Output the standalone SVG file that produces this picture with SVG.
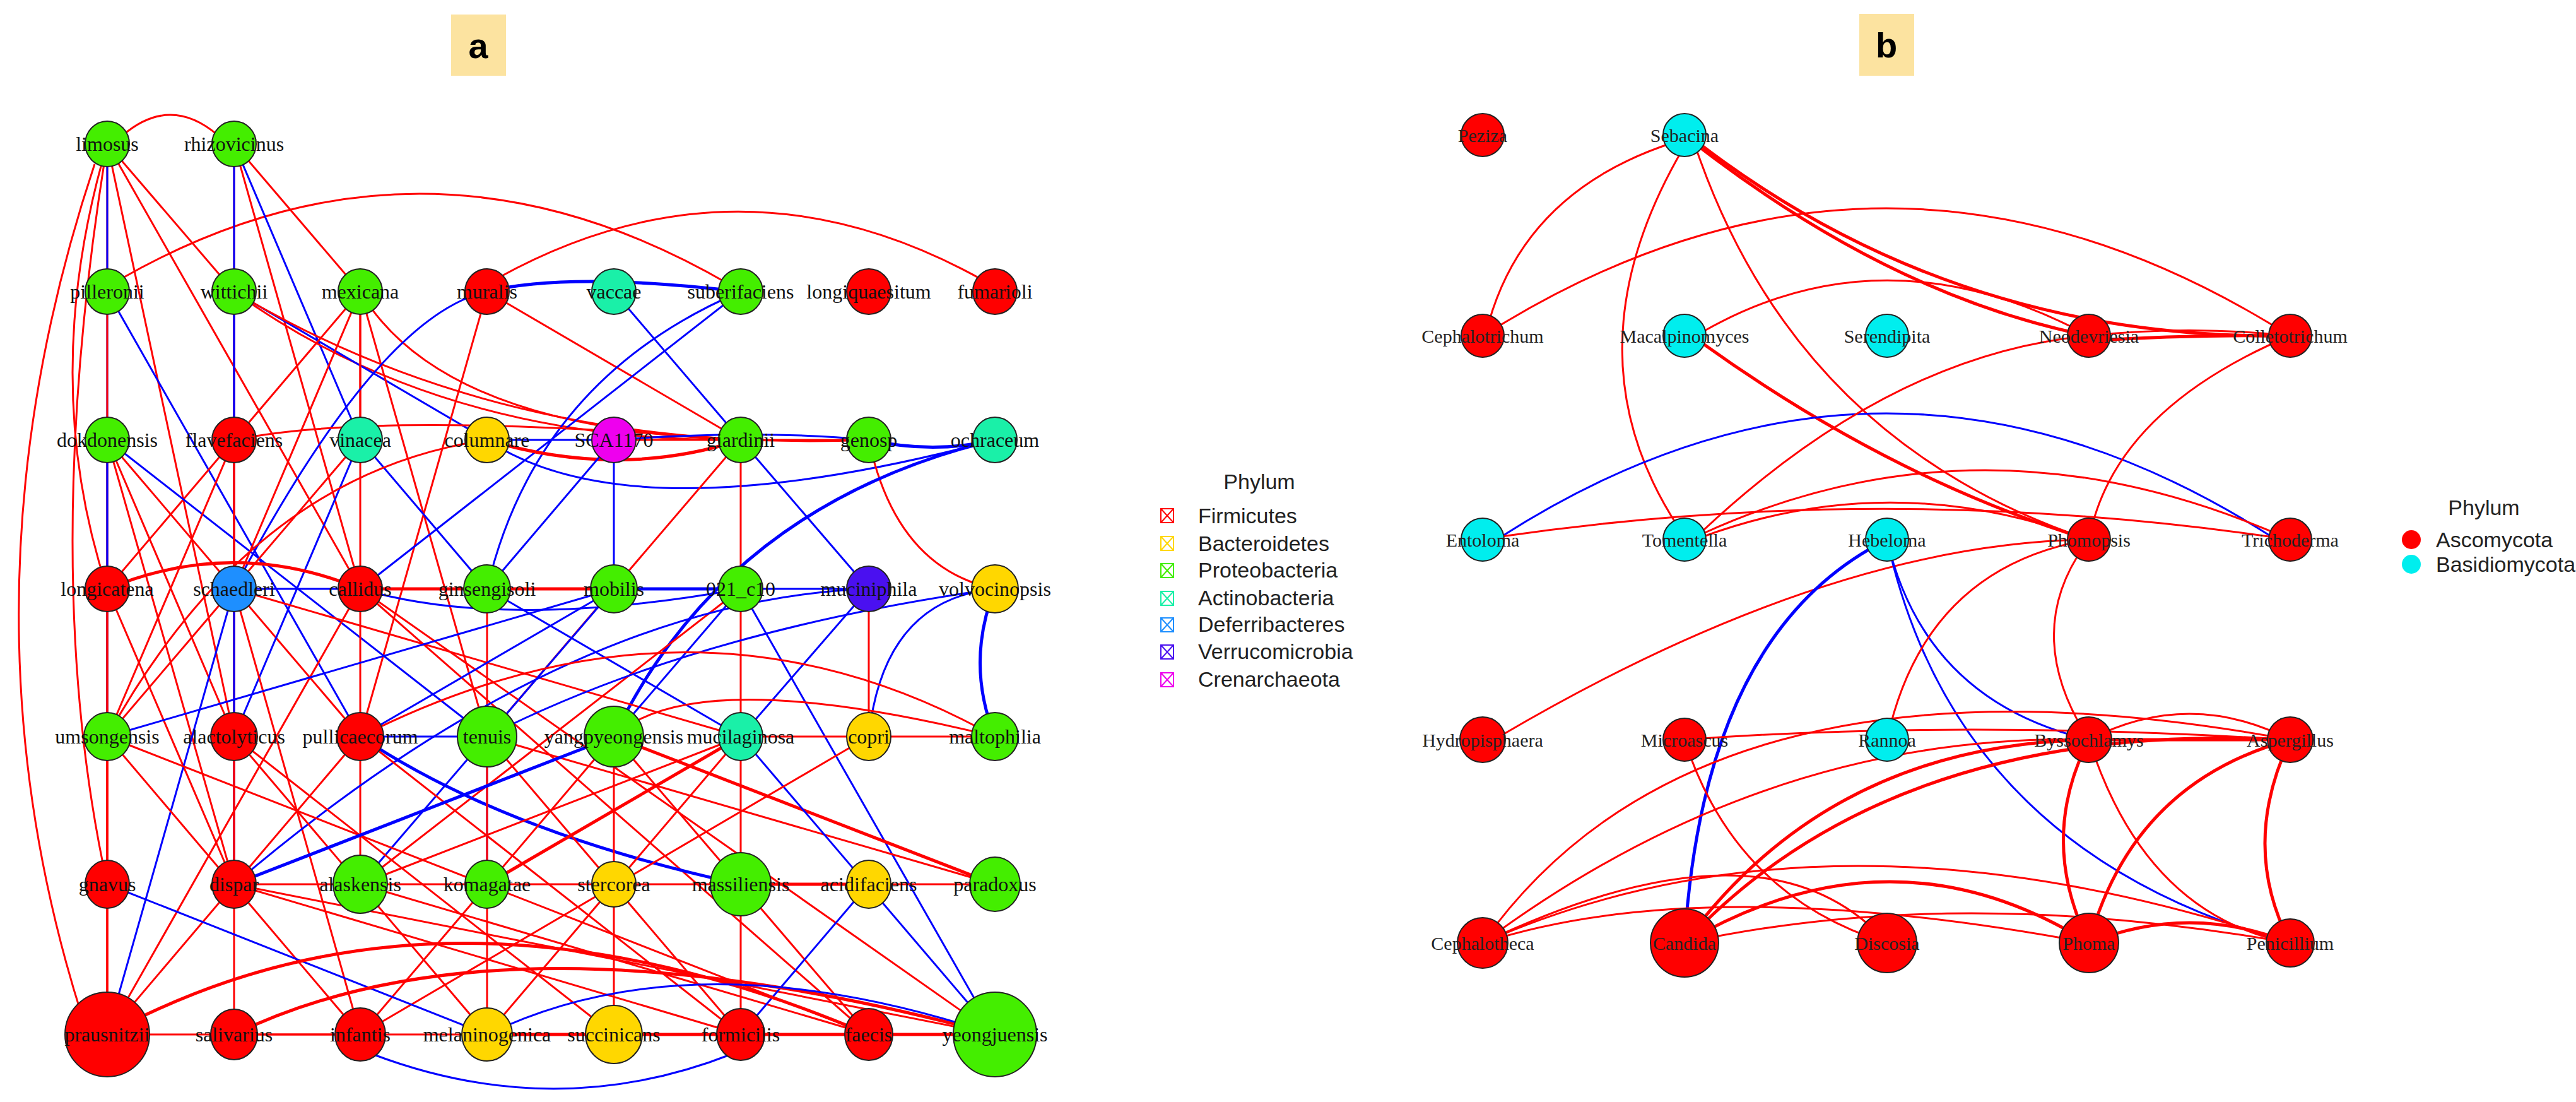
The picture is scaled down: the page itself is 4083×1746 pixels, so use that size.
<svg xmlns="http://www.w3.org/2000/svg" width="4083" height="1746" viewBox="0 0 4083 1746">
<style>
.r{stroke:#FF0000;stroke-width:3;fill:none}
.b{stroke:#0000FF;stroke-width:3;fill:none}
.t{stroke-width:5}
.n{stroke:#222;stroke-width:2}
.lb{font-family:"Liberation Serif",serif;font-size:32px;text-anchor:middle;dominant-baseline:central;fill:#111}
.lb2{font-family:"Liberation Serif",serif;font-size:30px;text-anchor:middle;dominant-baseline:central;fill:#222}
.lg{font-family:"Liberation Sans",sans-serif;font-size:34px;fill:#222}
.F{fill:#FF0000}.Y{fill:#FFD700}.G{fill:#44EE00}.A{fill:#1AF0A8}.D{fill:#1E8FFF}.V{fill:#4A10F0}.M{fill:#EE00EE}.C{fill:#00EEEE}
</style>
<rect width="4083" height="1746" fill="#fff"/>
<rect x="715" y="23" width="87" height="97" fill="#FCE3A0"/>
<text x="758" y="72" font-family="Liberation Sans,sans-serif" font-size="56" font-weight="bold" text-anchor="middle" dominant-baseline="central">a</text>
<rect x="2947" y="22" width="87" height="98" fill="#FCE3A0"/>
<text x="2990" y="71" font-family="Liberation Sans,sans-serif" font-size="56" font-weight="bold" text-anchor="middle" dominant-baseline="central">b</text>

<g id="connectors-a">
<path class="r" d="M195 214 Q270 150 345 214"/>
<path class="r" d="M195 440 Q672 169 1155 450"/>
<path class="r" d="M790 440 Q1174 228 1560 445"/>
<path class="r" d="M150 260 Q-80 950 130 1610"/>
<path class="b" d="M590 1670 Q880 1780 1160 1670"/>
<path class="r" d="M170 228 L170 462"/><path class="r" d="M170 228 L371 462"/><path class="r" d="M170 228 Q60 600 170 933"/>
<path class="r" d="M170 228 L371 1167"/><path class="b" d="M170 228 L170 1167"/><path class="r" d="M170 228 Q60 900 170 1401"/><path class="r" d="M170 228 L571 933"/>
<path class="r" d="M371 228 L371 462"/><path class="b" d="M371 228 L371 697"/><path class="b" d="M371 228 L571 697"/><path class="r" d="M371 228 L571 462"/><path class="r" d="M371 228 L571 933"/>
<path class="r" d="M170 462 L170 697"/><path class="b" d="M170 462 L571 1167"/>
<path class="r" d="M371 462 L371 697"/><path class="b" d="M371 462 L371 933"/><path class="r" d="M371 462 Q700 700 1174 697"/><path class="b" d="M371 462 L772 697"/><path class="r" d="M371 462 Q800 720 1377 697"/>
<path class="r" d="M571 462 Q700 680 1174 697"/><path class="r" d="M571 462 L371 933"/><path class="r" d="M571 462 L170 933"/><path class="r" d="M571 462 L571 697"/><path class="r" d="M571 462 L772 1167"/><path class="r" d="M571 462 L571 933"/>
<path class="b t" d="M772 462 Q900 430 1174 462"/><path class="r" d="M772 462 L1174 697"/><path class="b" d="M772 462 Q600 500 371 933"/><path class="r" d="M772 462 L571 1167"/>
<path class="b" d="M973 462 L1174 697 L1377 933 L1174 1167"/><path class="b" d="M1174 462 Q850 600 772 933"/><path class="b" d="M1174 462 L571 933"/>
<path class="r" d="M170 697 L170 933"/><path class="b" d="M170 697 L170 1167"/><path class="b" d="M170 697 L772 1167"/><path class="r" d="M170 697 L571 1167"/><path class="r" d="M170 697 L371 1167"/><path class="r" d="M170 697 L371 1401"/>
<path class="r" d="M371 697 Q600 650 1174 697"/><path class="r" d="M371 697 L170 1167"/><path class="r" d="M371 697 L371 1167"/><path class="r" d="M371 697 L371 1401"/>
<path class="b" d="M571 697 L772 933"/><path class="r" d="M571 697 L170 1167"/><path class="b" d="M571 697 L371 1167"/>
<path class="b" d="M772 697 L973 697"/><path class="b" d="M772 697 Q1000 850 1577 697"/><path class="r t" d="M772 697 Q980 760 1174 697"/><path class="r" d="M772 697 Q400 750 170 1167"/>
<path class="r" d="M973 697 L1174 697"/><path class="b" d="M973 697 Q1200 680 1377 697"/><path class="b" d="M973 697 L772 933"/><path class="b" d="M973 697 L973 933"/>
<path class="r" d="M1174 697 L1377 697"/><path class="r" d="M1174 697 L1174 933"/><path class="r" d="M1174 697 L772 1167"/>
<path class="b t" d="M1377 697 Q1480 720 1577 697"/><path class="r" d="M1377 697 Q1420 900 1577 933"/><path class="b t" d="M1577 697 Q1150 800 973 1167"/>
<path class="r t" d="M170 933 Q370 850 571 933"/><path class="r" d="M170 933 L170 1639"/><path class="r" d="M170 933 L170 1401"/><path class="r" d="M170 933 L371 1401"/>
<path class="b" d="M371 933 L973 933"/><path class="b" d="M371 933 L170 1639"/><path class="b" d="M371 933 L371 1401"/><path class="r" d="M371 933 L571 1639"/><path class="r" d="M371 933 L1174 1167"/>
<path class="r t" d="M571 933 L973 933"/><path class="r" d="M571 933 L772 933"/><path class="b" d="M571 933 Q800 1000 1174 933"/><path class="r" d="M571 933 L1577 1639"/><path class="r" d="M571 933 L571 1401"/><path class="r" d="M571 933 L1377 1639"/><path class="r" d="M571 933 L170 1639"/>
<path class="r" d="M772 933 L973 933"/><path class="b" d="M772 933 L1174 1167"/><path class="r" d="M772 933 L772 1167"/>
<path class="b t" d="M973 933 L1174 933"/><path class="b" d="M973 933 L571 1401"/><path class="b" d="M973 933 L571 1167"/><path class="b" d="M973 933 L170 1167"/>
<path class="b" d="M1174 933 L1377 933"/><path class="b" d="M1174 933 L973 1167"/><path class="b" d="M1174 933 L1577 1639"/><path class="r" d="M1174 933 L1174 1639"/><path class="r" d="M1174 933 L571 1401"/>
<path class="r" d="M1377 933 L1377 1167"/><path class="b" d="M1377 933 Q900 950 371 1401"/>
<path class="b t" d="M1577 933 Q1530 1050 1577 1167"/><path class="b" d="M1577 933 Q1100 1000 772 1167"/><path class="b" d="M1577 933 Q1400 950 1377 1167"/>
<path class="r" d="M170 1167 L170 1401"/><path class="r" d="M170 1167 L170 1639"/><path class="r" d="M170 1167 L1377 1639"/><path class="r" d="M170 1167 L571 1639"/>
<path class="r" d="M371 1167 L772 1639"/><path class="r" d="M371 1167 L371 1639"/><path class="r" d="M371 1167 L973 1639"/>
<path class="b" d="M571 1167 L772 1167"/><path class="b t" d="M571 1167 Q800 1320 1174 1401"/><path class="r" d="M571 1167 L170 1639"/><path class="r" d="M571 1167 L1174 1639"/>
<path class="b" d="M772 1167 L772 1401"/><path class="r" d="M772 1167 L772 1639"/><path class="r" d="M772 1167 L1174 1639"/><path class="r" d="M772 1167 L1577 1401"/>
<path class="b t" d="M973 1167 L371 1401"/><path class="r" d="M973 1167 L571 1639"/><path class="r t" d="M973 1167 L1577 1401"/><path class="r" d="M973 1167 L1377 1639"/><path class="r" d="M973 1167 L973 1639"/>
<path class="r" d="M1174 1167 L1377 1167"/><path class="r" d="M1174 1167 L571 1401"/><path class="r" d="M1174 1167 L772 1639"/><path class="b" d="M1174 1167 L1577 1639"/><path class="r t" d="M1174 1167 L772 1401"/>
<path class="r" d="M1377 1167 L1577 1167"/><path class="r" d="M1377 1167 L571 1639"/><path class="r" d="M1577 1167 Q1100 900 571 1167"/><path class="r" d="M1577 1167 Q1100 1050 973 1167"/>
<path class="r" d="M170 1401 L170 1639"/><path class="b" d="M170 1401 L772 1639"/><path class="r" d="M371 1401 L571 1401"/><path class="r" d="M371 1401 L1577 1639"/><path class="r" d="M371 1401 L1174 1639"/>
<path class="r" d="M571 1401 L772 1401"/><path class="r" d="M571 1401 L1377 1639"/><path class="r" d="M772 1401 L973 1401"/><path class="r" d="M973 1401 L1174 1401"/>
<path class="r t" d="M1174 1401 L1377 1401"/><path class="r" d="M1377 1401 L1577 1401"/><path class="b" d="M1377 1401 L1174 1639"/><path class="r t" d="M170 1639 Q700 1350 1377 1639"/><path class="r t" d="M371 1639 Q800 1430 1577 1639"/>
<path class="r" d="M170 1639 L973 1639"/><path class="r" d="M371 1639 L571 1639"/><path class="r t" d="M772 1639 L1377 1639"/><path class="r" d="M973 1639 L1174 1639"/><path class="r t" d="M1377 1639 L1577 1639"/><path class="b" d="M772 1639 Q1100 1480 1577 1639"/>
</g>

<g id="nodes-a">
<g id="limosus"><ellipse class="n G" cx="170" cy="228" rx="35" ry="36"/><text class="lb" x="170" y="228">limosus</text></g>
<g id="rhizovicinus"><ellipse class="n G" cx="371" cy="228" rx="35" ry="36"/><text class="lb" x="371" y="228">rhizovicinus</text></g>
<g id="pilleronii"><ellipse class="n G" cx="170" cy="462" rx="35" ry="36"/><text class="lb" x="170" y="462">pilleronii</text></g>
<g id="wittichii"><ellipse class="n G" cx="371" cy="462" rx="35" ry="36"/><text class="lb" x="371" y="462">wittichii</text></g>
<g id="mexicana"><ellipse class="n G" cx="571" cy="462" rx="35" ry="36"/><text class="lb" x="571" y="462">mexicana</text></g>
<g id="muralis"><ellipse class="n F" cx="772" cy="462" rx="35" ry="36"/><text class="lb" x="772" y="462">muralis</text></g>
<g id="vaccae"><ellipse class="n A" cx="973" cy="462" rx="35" ry="36"/><text class="lb" x="973" y="462">vaccae</text></g>
<g id="suberifaciens"><ellipse class="n G" cx="1174" cy="462" rx="35" ry="36"/><text class="lb" x="1174" y="462">suberifaciens</text></g>
<g id="longiquaesitum"><ellipse class="n F" cx="1377" cy="462" rx="35" ry="36"/><text class="lb" x="1377" y="462">longiquaesitum</text></g>
<g id="fumarioli"><ellipse class="n F" cx="1577" cy="462" rx="35" ry="36"/><text class="lb" x="1577" y="462">fumarioli</text></g>
<g id="dokdonensis"><ellipse class="n G" cx="170" cy="697" rx="35" ry="36"/><text class="lb" x="170" y="697">dokdonensis</text></g>
<g id="flavefaciens"><ellipse class="n F" cx="371" cy="697" rx="35" ry="36"/><text class="lb" x="371" y="697">flavefaciens</text></g>
<g id="vinacea"><ellipse class="n A" cx="571" cy="697" rx="35" ry="36"/><text class="lb" x="571" y="697">vinacea</text></g>
<g id="columnare"><ellipse class="n Y" cx="772" cy="697" rx="35" ry="36"/><text class="lb" x="772" y="697">columnare</text></g>
<g id="SCA1170"><ellipse class="n M" cx="973" cy="697" rx="35" ry="36"/><text class="lb" x="973" y="697">SCA1170</text></g>
<g id="giardinii"><ellipse class="n G" cx="1174" cy="697" rx="35" ry="36"/><text class="lb" x="1174" y="697">giardinii</text></g>
<g id="genosp"><ellipse class="n G" cx="1377" cy="697" rx="35" ry="36"/><text class="lb" x="1377" y="697">genosp</text></g>
<g id="ochraceum"><ellipse class="n A" cx="1577" cy="697" rx="35" ry="36"/><text class="lb" x="1577" y="697">ochraceum</text></g>
<g id="longicatena"><ellipse class="n F" cx="170" cy="933" rx="35" ry="36"/><text class="lb" x="170" y="933">longicatena</text></g>
<g id="schaedleri"><ellipse class="n D" cx="371" cy="933" rx="35" ry="36"/><text class="lb" x="371" y="933">schaedleri</text></g>
<g id="callidus"><ellipse class="n F" cx="571" cy="933" rx="35" ry="36"/><text class="lb" x="571" y="933">callidus</text></g>
<g id="ginsengisoli"><ellipse class="n G" cx="772" cy="933" rx="37" ry="38"/><text class="lb" x="772" y="933">ginsengisoli</text></g>
<g id="mobilis"><ellipse class="n G" cx="973" cy="933" rx="37" ry="38"/><text class="lb" x="973" y="933">mobilis</text></g>
<g id="c021_c10"><ellipse class="n G" cx="1174" cy="933" rx="35" ry="36"/><text class="lb" x="1174" y="933">021_c10</text></g>
<g id="muciniphila"><ellipse class="n V" cx="1377" cy="933" rx="35" ry="36"/><text class="lb" x="1377" y="933">muciniphila</text></g>
<g id="volvocinopsis"><ellipse class="n Y" cx="1577" cy="933" rx="37" ry="38"/><text class="lb" x="1577" y="933">volvocinopsis</text></g>
<g id="umsongensis"><ellipse class="n G" cx="170" cy="1167" rx="37" ry="38"/><text class="lb" x="170" y="1167">umsongensis</text></g>
<g id="alactolyticus"><ellipse class="n F" cx="371" cy="1167" rx="37" ry="38"/><text class="lb" x="371" y="1167">alactolyticus</text></g>
<g id="pullicaecorum"><ellipse class="n F" cx="571" cy="1167" rx="37" ry="38"/><text class="lb" x="571" y="1167">pullicaecorum</text></g>
<g id="tenuis"><ellipse class="n G" cx="772" cy="1167" rx="47" ry="48"/><text class="lb" x="772" y="1167">tenuis</text></g>
<g id="yangpyeongensis"><ellipse class="n G" cx="973" cy="1167" rx="47" ry="48"/><text class="lb" x="973" y="1167">yangpyeongensis</text></g>
<g id="mucilaginosa"><ellipse class="n A" cx="1174" cy="1167" rx="35" ry="38"/><text class="lb" x="1174" y="1167">mucilaginosa</text></g>
<g id="copri"><ellipse class="n Y" cx="1377" cy="1167" rx="35" ry="38"/><text class="lb" x="1377" y="1167">copri</text></g>
<g id="maltophilia"><ellipse class="n G" cx="1577" cy="1167" rx="37" ry="38"/><text class="lb" x="1577" y="1167">maltophilia</text></g>
<g id="gnavus"><ellipse class="n F" cx="170" cy="1401" rx="35" ry="38"/><text class="lb" x="170" y="1401">gnavus</text></g>
<g id="dispar"><ellipse class="n F" cx="371" cy="1401" rx="35" ry="38"/><text class="lb" x="371" y="1401">dispar</text></g>
<g id="alaskensis"><ellipse class="n G" cx="571" cy="1401" rx="43" ry="46"/><text class="lb" x="571" y="1401">alaskensis</text></g>
<g id="komagatae"><ellipse class="n G" cx="772" cy="1401" rx="35" ry="38"/><text class="lb" x="772" y="1401">komagatae</text></g>
<g id="stercorea"><ellipse class="n Y" cx="973" cy="1401" rx="35" ry="36"/><text class="lb" x="973" y="1401">stercorea</text></g>
<g id="massiliensis"><ellipse class="n G" cx="1174" cy="1401" rx="48" ry="50"/><text class="lb" x="1174" y="1401">massiliensis</text></g>
<g id="acidifaciens"><ellipse class="n Y" cx="1377" cy="1401" rx="35" ry="38"/><text class="lb" x="1377" y="1401">acidifaciens</text></g>
<g id="paradoxus"><ellipse class="n G" cx="1577" cy="1401" rx="40" ry="43"/><text class="lb" x="1577" y="1401">paradoxus</text></g>
<g id="prausnitzii"><ellipse class="n F" cx="170" cy="1639" rx="67" ry="67"/><text class="lb" x="170" y="1639">prausnitzii</text></g>
<g id="salivarius"><ellipse class="n F" cx="371" cy="1639" rx="37" ry="40"/><text class="lb" x="371" y="1639">salivarius</text></g>
<g id="infantis"><ellipse class="n F" cx="571" cy="1639" rx="40" ry="42"/><text class="lb" x="571" y="1639">infantis</text></g>
<g id="melaninogenica"><ellipse class="n Y" cx="772" cy="1639" rx="40" ry="42"/><text class="lb" x="772" y="1639">melaninogenica</text></g>
<g id="succinicans"><ellipse class="n Y" cx="973" cy="1639" rx="45" ry="46"/><text class="lb" x="973" y="1639">succinicans</text></g>
<g id="formicilis"><ellipse class="n F" cx="1174" cy="1639" rx="38" ry="41"/><text class="lb" x="1174" y="1639">formicilis</text></g>
<g id="faecis"><ellipse class="n F" cx="1377" cy="1639" rx="38" ry="41"/><text class="lb" x="1377" y="1639">faecis</text></g>
<g id="yeongjuensis"><ellipse class="n G" cx="1577" cy="1639" rx="66" ry="67"/><text class="lb" x="1577" y="1639">yeongjuensis</text></g>
</g>

<g id="legend-a">
<text class="lg" x="1996" y="775" text-anchor="middle">Phylum</text>
<g fill="none" stroke-width="2">
<g stroke="#FF0000"><rect x="1840" y="806" width="20" height="22"/><path d="M1840 806 L1860 828 M1860 806 L1840 828"/></g>
<g stroke="#FFD700"><rect x="1840" y="850" width="20" height="22"/><path d="M1840 850 L1860 872 M1860 850 L1840 872"/></g>
<g stroke="#44EE00"><rect x="1840" y="893" width="20" height="22"/><path d="M1840 893 L1860 915 M1860 893 L1840 915"/></g>
<g stroke="#1AF0A8"><rect x="1840" y="937" width="20" height="22"/><path d="M1840 937 L1860 959 M1860 937 L1840 959"/></g>
<g stroke="#1E8FFF"><rect x="1840" y="979" width="20" height="22"/><path d="M1840 979 L1860 1001 M1860 979 L1840 1001"/></g>
<g stroke="#4A10F0"><rect x="1840" y="1022" width="20" height="22"/><path d="M1840 1022 L1860 1044 M1860 1022 L1840 1044"/></g>
<g stroke="#EE00EE"><rect x="1840" y="1066" width="20" height="22"/><path d="M1840 1066 L1860 1088 M1860 1066 L1840 1088"/></g>
</g>
<text class="lg" x="1899" y="829">Firmicutes</text>
<text class="lg" x="1899" y="873">Bacteroidetes</text>
<text class="lg" x="1899" y="915">Proteobacteria</text>
<text class="lg" x="1899" y="959">Actinobacteria</text>
<text class="lg" x="1899" y="1001">Deferribacteres</text>
<text class="lg" x="1899" y="1044">Verrucomicrobia</text>
<text class="lg" x="1899" y="1088">Crenarchaeota</text>
</g>

<g id="connectors-b">
<path class="r" d="M2655 225 Q2420 300 2360 510"/>
<path class="r" d="M2665 240 Q2480 560 2660 835"/>
<path class="r t" d="M2690 230 Q3000 470 3311 532"/>
<path class="r t" d="M2690 225 Q3100 540 3630 532"/>
<path class="r" d="M2690 240 Q2850 700 3311 855"/>
<path class="r" d="M2370 520 Q2990 140 3610 520"/>
<path class="r" d="M2700 525 Q2990 360 3311 532"/>
<path class="r t" d="M2700 545 Q3000 760 3311 855"/>
<path class="r" d="M3311 532 Q3470 515 3630 532"/>
<path class="r t" d="M3311 540 Q3470 530 3630 532"/>
<path class="b" d="M2380 850 Q2990 460 3600 850"/>
<path class="r" d="M2700 840 Q3000 560 3311 532"/>
<path class="r" d="M2700 850 Q3000 740 3311 855"/>
<path class="r" d="M2700 845 Q3150 640 3630 855"/>
<path class="r" d="M2380 1165 Q2900 860 3311 855"/>
<path class="r" d="M2380 850 Q3000 760 3630 855"/>
<path class="b t" d="M2991 855 Q2700 1000 2670 1494"/>
<path class="b" d="M2991 855 Q3050 1110 3311 1172"/>
<path class="b" d="M2991 855 Q3100 1350 3630 1494"/>
<path class="r" d="M3311 855 Q3350 650 3630 532"/>
<path class="r" d="M3311 855 Q3050 900 2991 1172"/>
<path class="r" d="M3311 855 Q3200 1000 3311 1172"/>
<path class="r t" d="M3311 1172 L3630 1172"/>
<path class="r" d="M3311 1172 Q3470 1090 3630 1172"/>
<path class="r t" d="M3311 1172 Q3230 1330 3311 1494"/>
<path class="r" d="M3311 1172 Q3400 1450 3630 1494"/>
<path class="r" d="M2350 1494 Q2800 1160 3311 1172"/>
<path class="r t" d="M2670 1494 Q2900 1180 3311 1172"/>
<path class="r" d="M2670 1172 Q3100 1140 3630 1172"/>
<path class="r t" d="M3630 1172 Q3380 1240 3311 1494"/>
<path class="r t" d="M3630 1172 Q3550 1340 3630 1494"/>
<path class="r" d="M2350 1494 Q2700 1000 3630 1172"/>
<path class="r t" d="M2670 1494 Q3000 1140 3630 1172"/>
<path class="r" d="M2670 1172 Q2750 1420 2991 1494"/>
<path class="r" d="M2350 1494 Q2700 1380 3311 1494"/>
<path class="r t" d="M2670 1494 Q3000 1300 3311 1494"/>
<path class="r" d="M2670 1494 Q3100 1400 3630 1494"/>
<path class="r" d="M2350 1494 Q2800 1280 2991 1494"/>
<path class="r t" d="M3311 1494 Q3470 1430 3630 1494"/>
<path class="r" d="M2350 1494 Q2900 1250 3630 1494"/>
</g>

<g id="nodes-b">
<g id="Peziza"><circle class="n F" cx="2350" cy="214" r="34"/><text class="lb2" x="2350" y="214">Peziza</text></g>
<g id="Sebacina"><circle class="n C" cx="2670" cy="214" r="34"/><text class="lb2" x="2670" y="214">Sebacina</text></g>
<g id="Cephalotrichum"><circle class="n F" cx="2350" cy="532" r="34"/><text class="lb2" x="2350" y="532">Cephalotrichum</text></g>
<g id="Macalpinomyces"><circle class="n C" cx="2670" cy="532" r="34"/><text class="lb2" x="2670" y="532">Macalpinomyces</text></g>
<g id="Serendipita"><circle class="n C" cx="2991" cy="532" r="34"/><text class="lb2" x="2991" y="532">Serendipita</text></g>
<g id="Neodevriesia"><circle class="n F" cx="3311" cy="532" r="34"/><text class="lb2" x="3311" y="532">Neodevriesia</text></g>
<g id="Colletotrichum"><circle class="n F" cx="3630" cy="532" r="34"/><text class="lb2" x="3630" y="532">Colletotrichum</text></g>
<g id="Entoloma"><circle class="n C" cx="2350" cy="855" r="34"/><text class="lb2" x="2350" y="855">Entoloma</text></g>
<g id="Tomentella"><circle class="n C" cx="2670" cy="855" r="34"/><text class="lb2" x="2670" y="855">Tomentella</text></g>
<g id="Hebeloma"><circle class="n C" cx="2991" cy="855" r="34"/><text class="lb2" x="2991" y="855">Hebeloma</text></g>
<g id="Phomopsis"><circle class="n F" cx="3311" cy="855" r="34"/><text class="lb2" x="3311" y="855">Phomopsis</text></g>
<g id="Trichoderma"><circle class="n F" cx="3630" cy="855" r="34"/><text class="lb2" x="3630" y="855">Trichoderma</text></g>
<g id="Hydropisphaera"><circle class="n F" cx="2350" cy="1172" r="36"/><text class="lb2" x="2350" y="1172">Hydropisphaera</text></g>
<g id="Microascus"><circle class="n F" cx="2670" cy="1172" r="34"/><text class="lb2" x="2670" y="1172">Microascus</text></g>
<g id="Rannoa"><circle class="n C" cx="2991" cy="1172" r="34"/><text class="lb2" x="2991" y="1172">Rannoa</text></g>
<g id="Byssochlamys"><circle class="n F" cx="3311" cy="1172" r="36"/><text class="lb2" x="3311" y="1172">Byssochlamys</text></g>
<g id="Aspergillus"><circle class="n F" cx="3630" cy="1172" r="36"/><text class="lb2" x="3630" y="1172">Aspergillus</text></g>
<g id="Cephalotheca"><circle class="n F" cx="2350" cy="1494" r="40"/><text class="lb2" x="2350" y="1494">Cephalotheca</text></g>
<g id="Candida"><circle class="n F" cx="2670" cy="1494" r="54"/><text class="lb2" x="2670" y="1494">Candida</text></g>
<g id="Discosia"><circle class="n F" cx="2991" cy="1494" r="47"/><text class="lb2" x="2991" y="1494">Discosia</text></g>
<g id="Phoma"><circle class="n F" cx="3311" cy="1494" r="47"/><text class="lb2" x="3311" y="1494">Phoma</text></g>
<g id="Penicillium"><circle class="n F" cx="3630" cy="1494" r="38"/><text class="lb2" x="3630" y="1494">Penicillium</text></g>
</g>

<g id="legend-b">
<text class="lg" x="3937" y="816" text-anchor="middle">Phylum</text>
<circle cx="3822" cy="855" r="15" fill="#FF0000"/>
<circle cx="3822" cy="894" r="15" fill="#00EEEE"/>
<text class="lg" x="3861" y="867">Ascomycota</text>
<text class="lg" x="3861" y="906">Basidiomycota</text>
</g>
</svg>
